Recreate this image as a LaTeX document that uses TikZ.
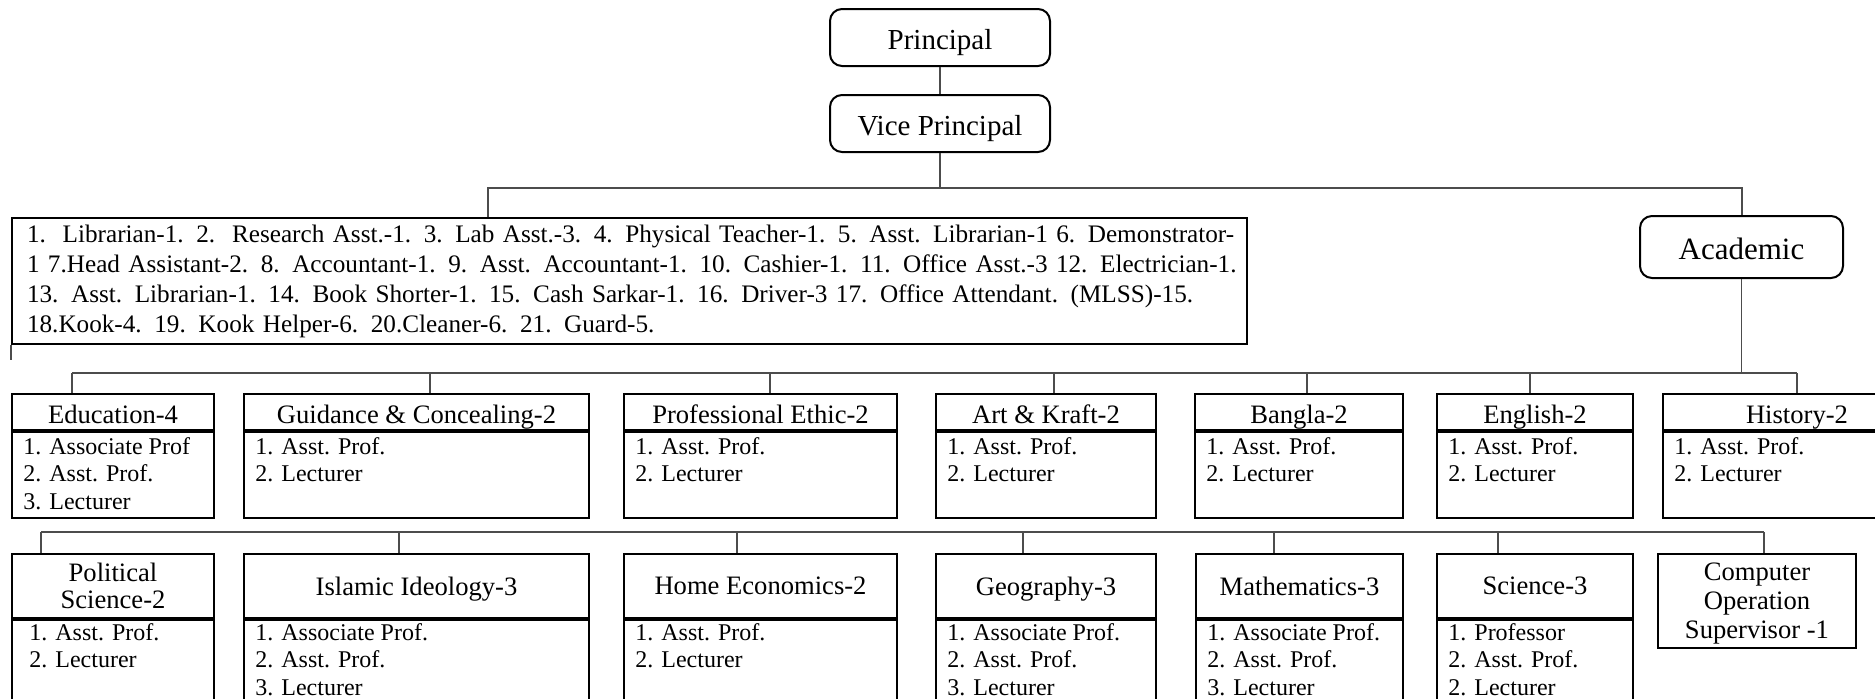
\documentclass[tikz,border=0pt]{standalone}
\usepackage{fontspec}
\setmainfont{Liberation Serif}
\usetikzlibrary{positioning}
\begin{document}
\begin{tikzpicture}[x=0.5pt,y=-0.5pt]
            \tikzstyle{post}=[draw,line width=1pt,rounded corners=6pt,minimum width=110pt,minimum height=28.5pt,text height=12pt,text depth=0pt,font=\fontsize{14.5}{17}\selectfont]
            \tikzstyle{head}=[draw,line width=1pt,anchor=north west,inner sep=1pt,align=center,font=\fontsize{13.3}{13.75}\selectfont]
            \tikzstyle{body}=[draw,line width=1pt,anchor=north,inner sep=0pt]
            \tikzstyle{list}=[anchor=north west,inner xsep=6pt,inner ysep=3pt,align=left,font=\fontsize{12}{13.8}\selectfont]
            \tikzstyle{list 2}=[list,yshift=1pt]
            \tikzstyle{link}=[black!70,line width=0.6pt]
            \tikzstyle{single}=[text depth=0pt]
            \tikzstyle{row 1}=[minimum height=18pt,single,text height=11pt]
            \tikzstyle{row 2}=[minimum height=32pt]

            \useasboundingbox (0,0) rectangle (1875,698);

            % top of the chart
            \node(principal)[post] at (940,37.5){Principal};
            \node(vice)[post,below=13.5pt of principal]{Vice Principal};
            \node(academic)[post,minimum width=101.5pt,minimum height=31pt,font=\fontsize{15.5}{18}\selectfont] at (1741.5,247){Academic};
            \node(staff)[draw,line width=1pt,anchor=north west,text width=617.5pt,inner xsep=0pt,inner ysep=3.3pt,align=left,font=\fontsize{12.6}{15}\selectfont] at (11,217){\leftskip=7.5pt
            \makebox[613pt][s]{1.\ \ Librarian-1. 2.\ \ Research Asst.-1. 3. Lab Asst.-3. 4. Physical Teacher-1. 5. Asst. Librarian-1 6. Demonstrator-}\\
            \makebox[603pt][s]{1 7.Head Assistant-2. 8. Accountant-1. 9. Asst. Accountant-1. 10. Cashier-1. 11. Office Asst.-3 12. Electrician-1.}\\
            13. Asst. Librarian-1. 14. Book Shorter-1. 15. Cash Sarkar-1. 16. Driver-3 17. Office Attendant. (MLSS)-15.\\
            18.Kook-4. 19. Kook Helper-6. 20.Cleaner-6. 21. Guard-5.\par};

            % first row of departments
            \node(edu)[head,row 1,minimum width=101pt] at (11,393){Education-4};
            \node(edu b)[body,minimum width=101pt,minimum height=43pt] at (edu.south){};
            \node(edu l)[list] at (edu b.north west){1. Associate Prof\\2. Asst. Prof.\\3. Lecturer};
            \node(guid)[head,row 1,minimum width=172.5pt] at (243,393){Guidance \& Concealing-2};
            \node(guid b)[body,minimum width=172.5pt,minimum height=43pt] at (guid.south){};
            \node(guid l)[list] at (guid b.north west){1. Asst. Prof.\\2. Lecturer};
            \node(ethic)[head,row 1,minimum width=136.5pt] at (623,393){Professional Ethic-2};
            \node(ethic b)[body,minimum width=136.5pt,minimum height=43pt] at (ethic.south){};
            \node(ethic l)[list] at (ethic b.north west){1. Asst. Prof.\\2. Lecturer};
            \node(art)[head,row 1,minimum width=110pt] at (935,393){Art \& Kraft-2};
            \node(art b)[body,minimum width=110pt,minimum height=43pt] at (art.south){};
            \node(art l)[list] at (art b.north west){1. Asst. Prof.\\2. Lecturer};
            \node(bangla)[head,row 1,minimum width=104pt] at (1194,393){Bangla-2};
            \node(bangla b)[body,minimum width=104pt,minimum height=43pt] at (bangla.south){};
            \node(bangla l)[list] at (bangla b.north west){1. Asst. Prof.\\2. Lecturer};
            \node(eng)[head,row 1,minimum width=98pt] at (1436,393){English-2};
            \node(eng b)[body,minimum width=98pt,minimum height=43pt] at (eng.south){};
            \node(eng l)[list] at (eng b.north west){1. Asst. Prof.\\2. Lecturer};
            \node(hist)[head,row 1,minimum width=134pt] at (1662,393){History-2};
            \node(hist b)[body,minimum width=134pt,minimum height=43pt] at (hist.south){};
            \node(hist l)[list] at (hist b.north west){1. Asst. Prof.\\2. Lecturer};

            % second row of departments
            \node(pol)[head,row 2,minimum width=101pt] at (11,553){Political\\Science-2};
            \node(pol b)[body,minimum width=101pt,minimum height=51.5pt] at (pol.south){};
            \node(pol l)[list 2,xshift=3pt] at (pol b.north west){1. Asst. Prof.\\2. Lecturer};
            \node(islam)[head,row 2,single,minimum width=172.5pt] at (243,553){Islamic Ideology-3};
            \node(islam b)[body,minimum width=172.5pt,minimum height=51.5pt] at (islam.south){};
            \node(islam l)[list 2] at (islam b.north west){1. Associate Prof.\\2. Asst. Prof.\\3. Lecturer};
            \node(home)[head,row 2,single,minimum width=136.5pt] at (623,553){Home Economics-2};
            \node(home b)[body,minimum width=136.5pt,minimum height=51.5pt] at (home.south){};
            \node(home l)[list 2] at (home b.north west){1. Asst. Prof.\\2. Lecturer};
            \node(geo)[head,row 2,single,minimum width=110pt] at (935,553){Geography-3};
            \node(geo b)[body,minimum width=110pt,minimum height=51.5pt] at (geo.south){};
            \node(geo l)[list 2] at (geo b.north west){1. Associate Prof.\\2. Asst. Prof.\\3. Lecturer};
            \node(math)[head,row 2,single,minimum width=103.5pt] at (1195,553){Mathematics-3};
            \node(math b)[body,minimum width=103.5pt,minimum height=51.5pt] at (math.south){};
            \node(math l)[list 2] at (math b.north west){1. Associate Prof.\\2. Asst. Prof.\\3. Lecturer};
            \node(sci)[head,row 2,single,minimum width=98pt] at (1436,553){Science-3};
            \node(sci b)[body,minimum width=98pt,minimum height=51.5pt] at (sci.south){};
            \node(sci l)[list 2] at (sci b.north west){1. Professor\\2. Asst. Prof.\\2. Lecturer};
            \node(comp)[head,minimum width=99pt,minimum height=47pt,font=\fontsize{13.3}{14.7}\selectfont] at (1657,553){\rule{0pt}{11.4pt}Computer\\Operation\\Supervisor -1};

            % connectors
            \coordinate(top l) at (488,188);
            \coordinate(top r) at (1742,188);
            \coordinate(stub) at (11,360);
            \coordinate(row1 l) at (72,373);
            \coordinate(row1 r) at (1797,373);
            \coordinate(row2 l) at (41,532);
            \coordinate(row2 r) at (1764,532);
            \draw[link] (principal) -- (vice);
            \draw[link] (vice) -- (vice.south |- top l);
            \draw[link] (staff.north -| top l) -- (top l) -- (top r) -- (academic.north -| top r);
            \draw[link] (staff.south west) -- (stub);
            \draw[link] (academic) -- (academic.south |- row1 l);
            \draw[link] (row1 l) -- (row1 r);
            \draw[link] (row2 l) -- (row2 r);
            \foreach \x/\n in {72/edu,430/guid,770/ethic,1054/art,1307/bangla,1530/eng,1797/hist}
            {\coordinate(drop) at (\x,373); \draw[link] (drop) -- (drop |- \n.north);}
            \foreach \x/\n in {41/pol,399/islam,737/home,1023/geo,1274/math,1498/sci,1764/comp}
            {\coordinate(drop) at (\x,532); \draw[link] (drop) -- (drop |- \n.north);}
\end{tikzpicture}
\end{document}
